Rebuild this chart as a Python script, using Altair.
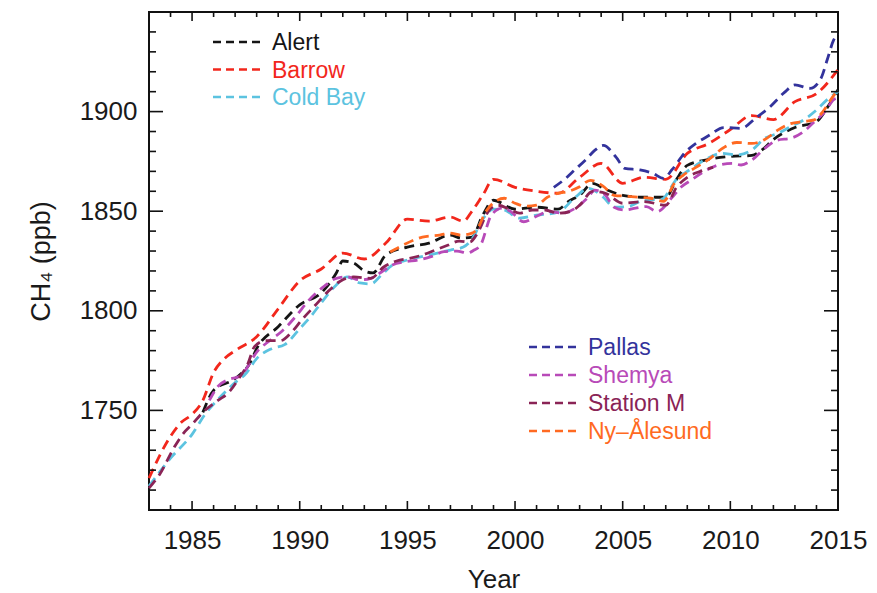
import altair as alt
import pandas as pd

# ---------------- data ----------------
stations = ["Alert", "Barrow", "Cold Bay", "Pallas", "Shemya", "Station M", "Ny\u2013\u00c5lesund"]
colors = ["#151515", "#f2271c", "#5cc3e0", "#33339c", "#b84ab8", "#8a2456", "#ff6a22"]

alert_years = [1985.5, 1986, 1987, 1987.7, 1988, 1989, 1990, 1991, 1991.7, 1992, 1992.5, 1993, 1993.4, 1994,
               1995, 1996, 1997, 1997.5, 1998, 1998.5, 1999, 2000, 2001, 2002, 2002.5, 2003, 2003.6, 2004.2,
               2005, 2006, 2007, 2007.5, 2008, 2009, 2010, 2011, 2011.5, 2012, 2013, 2014, 2014.5, 2015]
alert_vals = [1749, 1760, 1766, 1774, 1781, 1792, 1803, 1809, 1819, 1825, 1824, 1820, 1819, 1828,
              1832, 1834, 1838, 1836.5, 1837, 1848, 1855.5, 1851, 1852, 1851, 1855, 1858, 1864, 1861,
              1858, 1857, 1857, 1866, 1873, 1876, 1877.5, 1878, 1881, 1886, 1892, 1895, 1902, 1911]

barrow_years = [1983, 1984, 1984.5, 1985, 1985.5, 1986, 1986.5, 1987, 1988, 1989, 1990, 1991, 1992, 1993,
                1994, 1995, 1996, 1997, 1997.6, 1998, 1998.5, 1999, 2000, 2001, 2002, 2003, 2004, 2005,
                2006, 2007, 2008, 2009, 2010, 2011, 2012, 2013, 2014, 2015]
barrow_vals = [1716, 1737, 1744, 1748, 1755, 1769, 1776, 1780, 1787, 1801, 1815, 1821, 1829, 1826,
               1834, 1846, 1845, 1847, 1845, 1850, 1858, 1866, 1862, 1860, 1859, 1867, 1874, 1864,
               1867, 1866, 1879, 1884, 1891, 1898, 1896, 1905, 1909, 1921]

coldbay_years = [1983, 1984, 1985, 1985.6, 1986.2, 1987, 1987.5, 1988, 1988.7, 1989.3, 1990, 1990.5, 1991,
                 1991.7, 1992.2, 1992.8, 1993.3, 1993.8, 1994.3, 1995, 1996, 1997, 1997.6, 1998, 1998.5,
                 1999, 1999.5, 2000.2, 2001, 2002, 2002.8, 2003.4, 2004.1, 2004.6, 2005.3, 2006, 2006.8,
                 2007.5, 2008.1, 2008.8, 2009.6, 2010.3, 2011, 2011.6, 2012.2, 2012.8, 2013.4, 2014, 2014.5, 2015]
coldbay_vals = [1712, 1726, 1738, 1748, 1755.5, 1764, 1768.5, 1776, 1781, 1783, 1791, 1797, 1804,
                1813, 1817, 1814, 1813.5, 1818, 1823, 1825.5, 1828, 1830.5, 1832, 1836, 1846,
                1851, 1850.6, 1846.5, 1848, 1849.5, 1857, 1861.5, 1857, 1852, 1852.5, 1855.6, 1856,
                1866, 1870.7, 1875.7, 1879, 1878.2, 1880.7, 1886.6, 1889, 1892.4, 1895.8, 1900.8, 1906, 1910]

pallas_years = [2001.8, 2002.3, 2002.8, 2003.3, 2003.7, 2004.1, 2004.7, 2005.1, 2005.8, 2006.4, 2006.9,
                2007.3, 2007.9, 2008.4, 2009, 2009.7, 2010.5, 2011.2, 2011.8, 2012.5, 2013, 2013.7,
                2014.2, 2014.5, 2014.8, 2015]
pallas_vals = [1862, 1866, 1871, 1876, 1880.5, 1883, 1877, 1871.5, 1870.7, 1869, 1866.5,
               1871, 1879.5, 1884, 1888, 1892, 1891.6, 1897, 1902, 1909.5, 1913.4, 1911.7,
               1916.5, 1926, 1936, 1939]

shemya_years = [1985.8, 1986.2, 1986.7, 1987.2, 1988.1, 1988.6, 1989.2, 1989.8, 1990.4, 1991.1, 1991.7,
                1992.2, 1992.8, 1993.3, 1993.8, 1994.3, 1994.9, 1995.5, 1996.1, 1996.7, 1997.3, 1997.8,
                1998.1, 1998.4, 1998.9, 1999.4, 1999.8, 2000.4, 2001, 2001.6, 2002.2, 2002.8, 2003.4,
                2003.7, 2004.2, 2004.6, 2005.1, 2005.6, 2006.1, 2006.6, 2007.3, 2007.7, 2008.1, 2008.8,
                2009.4, 2010.1, 2010.5, 2011, 2011.6, 2012.2, 2012.8, 2013.4, 2013.9, 2014.4, 2014.8, 2015]
shemya_vals = [1755, 1762, 1765.5, 1767, 1780.5, 1785, 1790, 1797, 1805, 1812, 1816.3,
               1817, 1815.5, 1816.3, 1819.5, 1823, 1824.6, 1825.5, 1827.2, 1829.7, 1830, 1829,
               1830.5, 1833, 1848, 1851.5, 1849.8, 1844.7, 1847.5, 1849.8, 1849, 1851.5, 1857,
               1860.6, 1858, 1852, 1850.6, 1851.5, 1852.3, 1849.8, 1857, 1862, 1865, 1870,
               1873, 1874, 1873.2, 1875.7, 1881.6, 1885.7, 1886.6, 1889.9, 1894.9, 1900, 1906, 1907]

stationm_years = [1983, 1983.5, 1984.2, 1984.6, 1985, 1985.5, 1986.2, 1986.7, 1987.2, 1987.6, 1987.9,
                  1988.4, 1989.1, 1989.6, 1990.1, 1990.7, 1991.3, 1991.9, 1992.5, 1993.3, 1993.9, 1994.5,
                  1995.1, 1995.7, 1996.3, 1996.9, 1997.4, 1997.9, 1998.2, 1998.8, 1999.2, 1999.8, 2000.2,
                  2000.8, 2001.4, 2002, 2002.6, 2003, 2003.6, 2004.2, 2005, 2006, 2007, 2007.5, 2008,
                  2008.6, 2009.2]
stationm_vals = [1711, 1718, 1732, 1738.5, 1743, 1749, 1755, 1759, 1766.5, 1773.6, 1782,
                 1785, 1785, 1789, 1795.5, 1802.5, 1809.5, 1815, 1817, 1816.3, 1822, 1825,
                 1826.3, 1828, 1830.5, 1833, 1835, 1834.5, 1838, 1850.5, 1853, 1850.6, 1849,
                 1850.6, 1850.6, 1849, 1850, 1853, 1860, 1859, 1854, 1854.8, 1853, 1862, 1867,
                 1870, 1872]

nyalesund_years = [1994.2, 1994.8, 1995.7, 1996.5, 1997, 1997.5, 1998, 1998.3, 1998.6, 1999.1, 1999.5,
                   2000, 2000.5, 2001, 2001.5, 2002, 2002.5, 2003, 2003.5, 2004.1, 2004.6, 2005.2,
                   2005.8, 2006.3, 2006.9, 2007.4, 2007.8, 2008.4, 2009, 2009.7, 2010.3, 2011, 2011.6,
                   2012.2, 2012.8, 2013.4, 2013.9, 2014.3, 2014.7, 2015]
nyalesund_vals = [1829.5, 1833, 1837, 1838, 1839, 1838, 1839, 1842, 1849, 1855, 1856.5,
                  1854, 1852.5, 1853, 1857, 1859, 1860, 1862.3, 1865.5, 1862.5, 1858, 1857.5,
                  1857, 1856.5, 1855, 1864, 1868, 1872, 1876, 1882, 1884.5, 1884, 1886,
                  1890.7, 1894, 1895, 1895.8, 1900, 1906.6, 1911]

x_major = [1985, 1990, 1995, 2000, 2005, 2010, 2015]
x_minor = [y for y in range(1984, 2015) if y not in x_major]
y_major = [1750, 1800, 1850, 1900]
y_minor = [v for v in range(1710, 1950, 10) if v not in y_major]

# ---------------- build table ----------------
series = [alert_years, barrow_years, coldbay_years, pallas_years, shemya_years, stationm_years, nyalesund_years]
values = [alert_vals, barrow_vals, coldbay_vals, pallas_vals, shemya_vals, stationm_vals, nyalesund_vals]
rows = []
for name, ys, vs in zip(stations, series, values):
    for yv, vv in zip(ys, vs):
        rows.append({"station": name, "year": yv, "ch4": vv})
df = pd.DataFrame(rows)

W, H = 689, 498
FONT = "Liberation Sans"
INK = "#1a1a1a"

xscale = alt.Scale(domain=[1983, 2015], nice=False, zero=False)
yscale = alt.Scale(domain=[1700, 1950], nice=False, zero=False)

xaxis = alt.Axis(values=x_major, format="d", title="Year", ticks=False, domain=False, grid=False,
                 labelPadding=17, labelFontSize=26, titleFontSize=26, titlePadding=13,
                 labelFont=FONT, titleFont=FONT, labelColor=INK, titleColor=INK,
                 titleFontWeight="normal", labelOverlap=False, labelFlush=False, labelBound=False)
yaxis = alt.Axis(values=y_major, format="d", title="CH\u2084 (ppb)", ticks=False, domain=False, grid=False,
                 labelPadding=12, labelFontSize=26, titleFontSize=27, titlePadding=24,
                 labelFont=FONT, titleFont=FONT, labelColor=INK, titleColor=INK,
                 titleFontWeight="normal", labelOverlap=False, labelFlush=False, labelBound=False)

X = alt.X("year:Q", scale=xscale, axis=xaxis)
Y = alt.Y("ch4:Q", scale=yscale, axis=yaxis)

lines = alt.Chart(df).mark_line(strokeDash=[10, 6], strokeWidth=2.8, interpolate="monotone").encode(
    x=X, y=Y,
    color=alt.Color("station:N", scale=alt.Scale(domain=stations, range=colors), legend=None),
    detail="station:N",
)

layers = [lines]

# inward ticks on all four sides
def xticks(vals, length):
    d = pd.DataFrame({"year": vals})
    bottom = alt.Chart(d).mark_rule(color="#111", strokeWidth=1.6).encode(
        x=X, y=alt.value(H), y2=alt.value(H - length))
    top = alt.Chart(d).mark_rule(color="#111", strokeWidth=1.6).encode(
        x=X, y=alt.value(0), y2=alt.value(length))
    return [bottom, top]

def yticks(vals, length):
    d = pd.DataFrame({"ch4": vals})
    left = alt.Chart(d).mark_rule(color="#111", strokeWidth=1.6).encode(
        y=Y, x=alt.value(0), x2=alt.value(length))
    right = alt.Chart(d).mark_rule(color="#111", strokeWidth=1.6).encode(
        y=Y, x=alt.value(W), x2=alt.value(W - length))
    return [left, right]

layers += xticks(x_major, 9) + xticks(x_minor, 5) + yticks(y_major, 14) + yticks(y_minor, 7)

# hand-drawn legends (coloured labels)
def legend_entry(name, color, x0, yy):
    d = pd.DataFrame({"station": [name]})
    seg = alt.Chart(d).mark_rule(color=color, strokeDash=[8, 5], strokeWidth=2.6).encode(
        x=alt.value(x0), x2=alt.value(x0 + 52), y=alt.value(yy))
    txt = alt.Chart(d).mark_text(align="left", baseline="middle", fontSize=23, font=FONT, color=color).encode(
        x=alt.value(x0 + 59), y=alt.value(yy + 1), text="station:N")
    return [seg, txt]

top_group = [0, 1, 2]
for i, idx in enumerate(top_group):
    layers += legend_entry(stations[idx], colors[idx], 64, 30 + i * 27.5)
bottom_group = [3, 4, 5, 6]
for i, idx in enumerate(bottom_group):
    layers += legend_entry(stations[idx], colors[idx], 380, 335 + i * 28)

chart = alt.layer(*layers).properties(
    width=W, height=H,
    autosize=alt.AutoSizeParams(type="none"),
    padding={"left": 149, "top": 12, "right": 39, "bottom": 83},
    background="white",
).configure_view(stroke="#111", strokeWidth=2)

chart.save("out.html", embed_options={"renderer": "svg", "actions": False})
